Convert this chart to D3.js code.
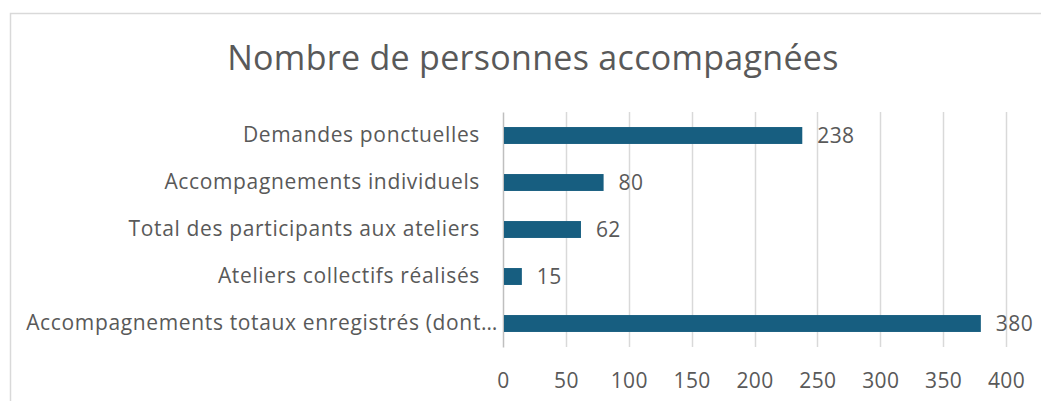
<!DOCTYPE html>
<html>
<head>
<meta charset="utf-8">
<script src="https://cdn.jsdelivr.net/npm/d3@7"></script>
<style>
  body { margin: 0; background: #fff; }
  text { font-family: "Open Sans", sans-serif; fill: #595959; }
</style>
</head>
<body>
<div id="chart-area"></div>
<script>
var categories = [
    "Demandes ponctuelles",
    "Accompagnements individuels",
    "Total des participants aux ateliers",
    "Ateliers collectifs réalisés",
    "Accompagnements totaux enregistrés (dont…"
];
var values = [238, 80, 62, 15, 380];
var ticks = [0, 50, 100, 150, 200, 250, 300, 350, 400];
var title = "Nombre de personnes accompagnées";

var data = categories.map((c, i) => ({ name: c, value: values[i] }));

var W = 1041, H = 401;
var margin = { top: 112, right: 35, bottom: 54, left: 503 };
var width = W - margin.left - margin.right;
var height = H - margin.top - margin.bottom;

var svg = d3.select("#chart-area")
    .append("svg")
    .attr("width", W)
    .attr("height", H);

// chart frame (only top and left edges are visible)
svg.append("rect")
    .attr("x", 10.5)
    .attr("y", 13.5)
    .attr("width", W + 20)
    .attr("height", H + 20)
    .attr("fill", "none")
    .attr("stroke", "#d9d9d9")
    .attr("stroke-width", 1.5);

svg.append("text")
    .attr("x", 533)
    .attr("y", 70)
    .attr("text-anchor", "middle")
    .attr("font-size", 34)
    .attr("letter-spacing", 0.3)
    .text(title);

var g = svg.append("g")
    .attr("transform", "translate(" + margin.left + "," + margin.top + ")");

var x = d3.scaleLinear().domain([0, 400]).range([0, width]);
var y = d3.scaleBand().domain(categories).range([0, height])
    .paddingInner(0.64).paddingOuter(0.32);

// gridlines
g.selectAll("line.grid")
    .data(ticks.slice(1))
    .enter().append("line")
    .attr("class", "grid")
    .attr("x1", d => Math.round(x(d)) + 0.5)
    .attr("x2", d => Math.round(x(d)) + 0.5)
    .attr("y1", 0)
    .attr("y2", height)
    .attr("stroke", "#d9d9d9")
    .attr("stroke-width", 1.5);

var xAxis = g.append("g")
    .attr("transform", "translate(0," + height + ")")
    .call(d3.axisBottom(x).tickValues(ticks).tickSize(0).tickPadding(26));
xAxis.select(".domain").remove();
xAxis.selectAll("text")
    .attr("font-size", 21)
    .attr("font-family", null)
    .attr("letter-spacing", 0.4)
    .style("fill", "#595959");

var yAxis = g.append("g")
    .call(d3.axisLeft(y).tickSize(0).tickPadding(23));
yAxis.select(".domain").attr("stroke", "#bfbfbf").attr("stroke-width", 1.5);
yAxis.selectAll("text")
    .attr("font-size", 21)
    .attr("font-family", null)
    .attr("letter-spacing", 0.65)
    .attr("x", d => d.endsWith("…") ? -5 : -23)
    .style("fill", "#595959");

g.selectAll("rect.bar")
    .data(data)
    .enter().append("rect")
    .attr("class", "bar")
    .attr("x", x(0) + 1)
    .attr("y", d => y(d.name))
    .attr("width", d => x(d.value) - x(0) - 1)
    .attr("height", y.bandwidth())
    .attr("fill", "#175e80");

g.selectAll("text.val")
    .data(data)
    .enter().append("text")
    .attr("class", "val")
    .attr("x", d => x(d.value) + 15)
    .attr("y", d => y(d.name) + y.bandwidth() / 2)
    .attr("dy", "0.35em")
    .attr("font-size", 21)
    .attr("letter-spacing", 0.4)
    .text(d => d.value);
</script>
</body>
</html>
